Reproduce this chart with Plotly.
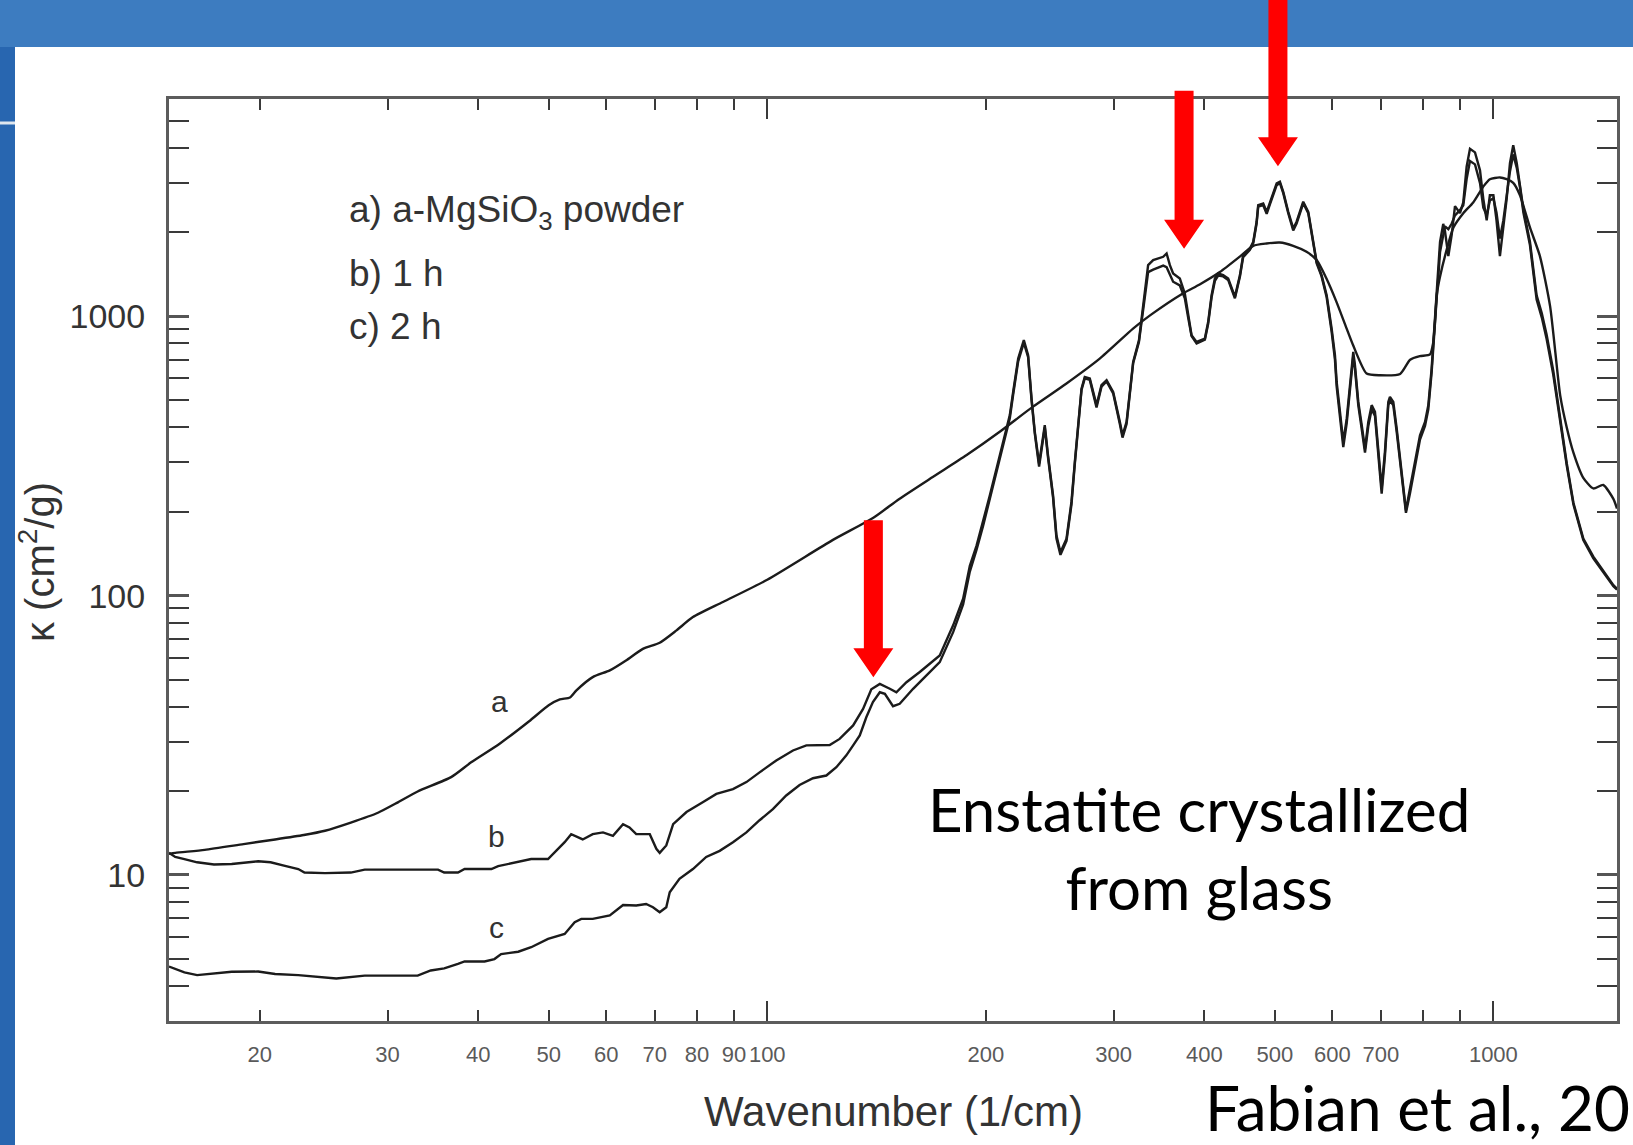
import math
import plotly.graph_objects as go

# ---- mass absorption coefficient kappa (cm^2/g) vs wavenumber (1/cm) ----
# a) amorphous MgSiO3 powder
a_wn = [15, 15.3, 16.8, 19.0, 21.0, 23.0, 24.6, 26.7, 29.1, 31.0,
        33.0, 36.7, 39.1, 42.8, 47.0, 50.0, 51.8, 53.5, 54.6, 57.5,
        60.7, 63.9, 67.4, 71.1, 75.0, 79.0, 86.9, 100, 123, 140,
        152, 169, 188, 209, 232, 258, 287, 319, 337, 374,
        394, 420, 448, 467, 487, 508, 530, 553, 571, 589,
        608, 628, 641, 669, 698, 744, 768, 792, 818, 826,
        831, 836, 844, 863, 881, 909, 938, 969, 989, 1021,
        1043, 1065, 1088, 1123, 1159, 1197, 1236, 1262, 1289, 1330,
        1373, 1417, 1463, 1480]
a_kappa = [11.9, 12.0, 12.3, 12.9, 13.4, 13.9, 14.4, 15.4, 16.7, 18.2,
           19.9, 22.4, 25.3, 29.5, 35.5, 40.5, 42.5, 43.2, 45.8, 51.1,
           54.0, 58.6, 64.5, 67.8, 75.1, 83.8, 94.9, 114, 158, 190,
           222, 266, 318, 386, 474, 574, 706, 904, 1010, 1210,
           1300, 1440, 1640, 1789, 1823, 1838, 1789, 1703, 1590, 1366,
           1127, 904, 788, 624, 615, 622, 699, 720, 731, 800,
           960, 1200, 1380, 1744, 2081, 2341, 2557, 2920, 3097, 3143,
           3097, 3006, 2712, 2081, 1643, 1088, 521, 400, 325, 264,
           242, 249, 222, 205]

# b) annealed 1 h
b_wn = [15, 15.3, 15.75, 16.4, 17.3, 18.3, 19.9, 20.7, 21.6, 22.6,
        23.05, 24.6, 26.7, 27.9, 31.0, 35.2, 35.9, 37.5, 38.3, 40.0,
        41.7, 42.6, 45.4, 47.3, 49.9, 51.0, 52.6, 53.7, 55.7, 57.5,
        59.4, 61.3, 63.3, 64.6, 66.0, 68.9, 70.35, 71.1, 72.6, 74.2,
        77.4, 81.5, 85.1, 89.7, 93.6, 97.6, 102.9, 108.5, 113.2, 121.9,
        125.8, 131.3, 135.5, 139.1, 142.9, 147.5, 150.6, 155.5, 162.2, 172.8,
        180.3, 186.1, 190.1, 194.2, 198.3, 202.6, 206.9, 211.3, 215.8, 218.1,
        221.6, 225.6, 228.7, 231.2, 233.6, 236.8, 241.1, 243.6, 247.5, 250.2,
        253.4, 258.3, 262.4, 265.2, 268, 270.9, 273.7, 278.1, 284.1, 288.6,
        293.3, 299.5, 305.9, 308.5, 312.5, 315.7, 319.1, 325, 329.4, 333,
        334.6, 340, 351, 354.8, 358.5, 362.2, 370, 375.9, 379.9, 384,
        390.2, 400.6, 404.8, 409.2, 413.5, 417.8, 424.5, 431.3, 440.6, 447.7,
        452.3, 462.1, 467, 472, 474.4, 482, 487.3, 495, 503, 508.2,
        513.6, 521.8, 530.1, 535.8, 547.2, 556, 564.9, 570.9, 580, 589.4,
        598.8, 605.1, 608.4, 614.9, 621.3, 628.1, 634.8, 641.3, 644.7, 651.6,
        658.7, 665.6, 672.6, 679.8, 687, 694.2, 701.7, 709, 716.6, 720.4,
        728.1, 736, 743.6, 751.5, 757.9, 767.6, 779.8, 792.4, 805.1, 813.6,
        822.2, 826.7, 831, 835.6, 840, 844.4, 853, 857.7, 866.9, 876.3,
        885.4, 899.5, 909, 918.7, 928.5, 943.4, 958.5, 968.6, 979, 989,
        1000, 1010, 1021, 1032, 1043, 1054, 1065, 1077, 1088, 1100,
        1123, 1135, 1147, 1166, 1184, 1209, 1236, 1262, 1289, 1330,
        1373, 1417, 1463, 1480]
b_kappa = [12.0, 11.6, 11.4, 11.1, 10.9, 10.95, 11.2, 11.1, 10.8, 10.5,
           10.2, 10.15, 10.2, 10.45, 10.45, 10.45, 10.2, 10.2, 10.5, 10.5,
           10.5, 10.75, 11.1, 11.4, 11.4, 12.1, 13.1, 14.0, 13.4, 14.0,
           14.2, 13.8, 15.2, 14.8, 14.0, 14.0, 12.4, 12.0, 12.75, 15.2,
           16.8, 18.2, 19.5, 20.3, 21.5, 23.3, 25.7, 27.9, 29.1, 29.2,
           30.7, 34.3, 39.3, 46.2, 48.3, 46.4, 45.1, 49.0, 53.3, 61.1,
           78.3, 97.5, 128, 151, 184, 229, 285, 355, 443, 536,
           706, 822, 726, 508, 386, 297, 408, 318, 229, 164,
           143, 160, 217, 301, 419, 551, 607, 599, 481, 567,
           591, 536, 419, 375, 419, 522, 687, 820, 1080, 1370,
           1525, 1590, 1634, 1679, 1525, 1424, 1366, 1207, 1010, 856,
           810, 833, 956, 1191, 1366, 1424, 1405, 1366, 1175, 1405,
           1657, 1750, 1849, 2181, 2503, 2537, 2368, 2643, 2991, 3033,
           2793, 2368, 2064, 2181, 2573, 2368, 1849, 1568, 1405, 1191,
           904, 726, 582, 443, 355, 430, 567, 746, 669, 494,
           408, 336, 419, 481, 455, 327, 242, 327, 494, 515,
           494, 396, 318, 242, 202, 242, 301, 375, 419, 481,
           650, 810, 1030, 1200, 1450, 1849, 2143, 2020, 1643, 1961,
           2482, 2341, 2557, 3432, 3980, 3864, 3333, 2634, 2206, 2712,
           2712, 2206, 1643, 2081, 2634, 3537, 4096, 3537, 2961, 2410,
           1849, 1504, 1188, 1026, 859, 640, 424, 298, 215, 160,
           138, 123, 109, 106]

# c) annealed 2 h
c_wn = [15, 15.75, 16.4, 18.3, 19.9, 21.0, 22.6, 24.6, 25.5, 27.9,
        31.0, 33.0, 34.4, 35.9, 37.5, 38.3, 40.8, 42.1, 43.0, 45.4,
        47.3, 49.9, 52.6, 54.3, 55.45, 57.5, 60.7, 63.3, 66.0, 68.1,
        69.6, 71.1, 72.6, 73.4, 75.7, 79.0, 82.4, 86.0, 89.7, 93.6,
        97.6, 101.8, 106.2, 110.8, 115.6, 120.6, 124.5, 128.5, 131.3, 134.1,
        136.9, 139.8, 142.9, 145.2, 149.0, 152.2, 158.8, 165.7, 172.8, 180.3,
        186.1, 190.1, 194.2, 198.3, 202.6, 206.9, 211.3, 215.8, 218.1, 221.6,
        225.6, 228.7, 231.2, 233.6, 236.8, 241.1, 243.6, 247.5, 250.2, 253.4,
        258.3, 262.4, 265.2, 268, 270.9, 273.7, 278.1, 284.1, 288.6, 293.3,
        299.5, 305.9, 308.5, 312.5, 315.7, 319.1, 325, 329.4, 333, 334.6,
        340, 351, 354.8, 358.5, 362.2, 370, 375.9, 379.9, 384, 390.2,
        400.6, 404.8, 409.2, 413.5, 417.8, 424.5, 431.3, 440.6, 447.7, 452.3,
        462.1, 467, 472, 474.4, 482, 487.3, 495, 503, 508.2, 513.6,
        521.8, 530.1, 535.8, 547.2, 556, 564.9, 570.9, 580, 589.4, 598.8,
        605.1, 608.4, 614.9, 621.3, 628.1, 634.8, 641.3, 644.7, 651.6, 658.7,
        665.6, 672.6, 679.8, 687, 694.2, 701.7, 709, 716.6, 720.4, 728.1,
        736, 743.6, 751.5, 757.9, 767.6, 779.8, 792.4, 805.1, 813.6, 822.2,
        826.7, 831, 835.6, 840, 844.4, 853, 857.7, 866.9, 876.3, 885.4,
        899.5, 909, 918.7, 928.5, 943.4, 958.5, 968.6, 979, 989, 1000,
        1010, 1021, 1032, 1043, 1054, 1065, 1077, 1088, 1100, 1123,
        1135, 1147, 1166, 1184, 1209, 1236, 1262, 1289, 1330, 1373,
        1417, 1463, 1480]
c_kappa = [4.70, 4.48, 4.38, 4.50, 4.51, 4.42, 4.38, 4.30, 4.26, 4.36,
           4.36, 4.36, 4.55, 4.63, 4.80, 4.90, 4.90, 5.00, 5.21, 5.31,
           5.51, 5.90, 6.15, 6.77, 6.96, 6.96, 7.16, 7.81, 7.77, 7.87,
           7.66, 7.35, 7.66, 8.67, 9.68, 10.5, 11.6, 12.2, 13.1, 14.2,
           15.7, 17.2, 19.25, 21.0, 22.2, 22.7, 24.3, 26.8, 29.1, 31.6,
           36.7, 41.6, 45.1, 44.5, 40.2, 41.0, 46.4, 51.8, 57.8, 74,
           93, 122, 146, 178, 222, 277, 346, 432, 525, 690,
           805, 715, 500, 380, 290, 400, 312, 225, 160, 140,
           157, 212, 296, 412, 545, 600, 592, 472, 560, 585,
           530, 412, 368, 412, 515, 680, 810, 1060, 1340, 1440,
           1470, 1520, 1500, 1420, 1330, 1290, 1160, 990, 850, 800,
           825, 940, 1170, 1340, 1400, 1390, 1350, 1160, 1390, 1630,
           1730, 1830, 2150, 2470, 2500, 2330, 2600, 2950, 3000, 2760,
           2340, 2030, 2150, 2540, 2340, 1820, 1550, 1390, 1170, 880,
           700, 560, 425, 340, 415, 550, 720, 650, 480, 395,
           325, 405, 465, 440, 315, 232, 315, 480, 500, 480,
           385, 305, 232, 198, 232, 290, 362, 405, 465, 630,
           790, 1000, 1170, 1400, 1700, 1950, 2100, 2050, 2150, 2300,
           2400, 2500, 3100, 3600, 3500, 3000, 2450, 2300, 2600, 2650,
           2350, 1900, 2200, 2700, 3300, 3800, 3400, 2900, 2350, 1800,
           1450, 1150, 990, 830, 620, 415, 292, 212, 158, 136,
           121, 108, 105]

assert len(a_wn) == len(a_kappa)
assert len(b_wn) == len(b_kappa)
assert len(c_wn) == len(c_kappa)

# axis ticks
x_tick_vals = [20, 30, 40, 50, 60, 70, 80, 90, 100, 200, 300, 400, 500, 600, 700, 1000]
x_tick_text = ["20", "30", "40", "50", "60", "70", "80", "90", "100",
               "200", "300", "400", "500", "600", "700", "1000"]
x_minor_vals = [800, 900]
x_decade_vals = [100, 1000]
y_tick_vals = [10, 100, 1000]
y_tick_text = ["10", "100", "1000"]
y_minor_vals = [4, 5, 6, 7, 8, 9, 20, 30, 40, 50, 60, 70, 80, 90,
                200, 300, 400, 500, 600, 700, 800, 900, 2000, 3000, 4000, 5000]

# crystalline bands highlighted by arrows (tip position in data units)
arrow_wn = [140, 375, 505]
arrow_kappa = [51, 1745, 3450]
arrow_len = [157, 158, 180]

# ---- page geometry ----
W, H = 1633, 1145
ML, MR, MT, MB = 169, 16, 99, 124
PW, PH = W - ML - MR, H - MT - MB
X_RANGE = [math.log10(15), math.log10(1480)]
Y_RANGE = [math.log10(3), math.log10(6000)]


def px(x):
    return (x - ML) / PW


def py(y):
    return (H - MB - y) / PH


def y_paper(k):
    return (math.log10(k) - Y_RANGE[0]) / (Y_RANGE[1] - Y_RANGE[0])


LINE = dict(color="#1b1b1b", width=2.4)
SANS = "Liberation Sans, Arial, sans-serif"
HAND = "Lato, Open Sans, sans-serif"
TICK = dict(ticks="inside", tickwidth=2, tickcolor="#3a3a3a")

fig = go.Figure()
fig.add_trace(go.Scatter(x=a_wn, y=a_kappa, mode="lines", line=dict(shape="spline", smoothing=0.6, **LINE),
                         showlegend=False, hoverinfo="skip"))
fig.add_trace(go.Scatter(x=b_wn, y=b_kappa, mode="lines", line=LINE, showlegend=False, hoverinfo="skip"))
fig.add_trace(go.Scatter(x=c_wn, y=c_kappa, mode="lines", line=LINE, showlegend=False, hoverinfo="skip"))
# carrier for the overlay axis holding the long decade ticks
fig.add_trace(go.Scatter(x=[], y=[], xaxis="x2", yaxis="y", showlegend=False, hoverinfo="skip"))

shapes = [
    # slide background: darker left strip is the paper colour, lighter top band, white page
    dict(type="rect", xref="paper", yref="paper", x0=px(-10), x1=px(W + 10), y0=py(47), y1=py(-10),
         fillcolor="#3d7cc0", line=dict(width=0), layer="below"),
    dict(type="rect", xref="paper", yref="paper", x0=px(15), x1=px(W + 10), y0=py(H + 10), y1=py(47),
         fillcolor="white", line=dict(width=0), layer="below"),
    dict(type="line", xref="paper", yref="paper", x0=px(-5), x1=px(15), y0=py(123), y1=py(123),
         line=dict(color="#dfe6ee", width=3), layer="below"),
]

for wn, k, ln in zip(arrow_wn, arrow_kappa, arrow_len):
    path = (f"M0,0 L20,29 L9.5,29 L9.5,{ln} L-9.5,{ln} L-9.5,29 L-20,29 Z")
    shapes.append(dict(type="path", xref="x", yref="paper", xsizemode="pixel", ysizemode="pixel",
                       xanchor=wn, yanchor=y_paper(k), path=path,
                       fillcolor="#ff0000", line=dict(width=0), layer="above"))


def note(text, x, y, size, color="#333333", family=SANS, **kw):
    return dict(text=text, x=px(x), y=py(y), xref="paper", yref="paper", showarrow=False,
                font=dict(family=family, size=size, color=color), **kw)


annotations = [
    note("Wavenumber (1/cm)", 893, 1111, 42, xanchor="center", yanchor="middle"),
    note("κ (cm<sup>2</sup>/g)", 37, 562, 40, textangle=-90, xanchor="center", yanchor="middle"),
    note("a) a-MgSiO<sub>3</sub> powder", 347, 212, 37, xanchor="left", yanchor="middle"),
    note("b) 1 h", 347, 273, 37, xanchor="left", yanchor="middle"),
    note("c) 2 h", 347, 326, 37, xanchor="left", yanchor="middle"),
    note("a", 499, 701, 30, xanchor="center", yanchor="middle"),
    note("b", 496, 836, 30, xanchor="center", yanchor="middle"),
    note("c", 496, 927, 30, xanchor="center", yanchor="middle"),
    note("Enstatite crystallized<br>from glass", 1199, 848, 60, color="#000000", family=HAND,
         align="center", xanchor="center", yanchor="middle"),
    note("Fabian et al., 20", 1203, 1107, 62, color="#000000", family=HAND,
         xanchor="left", yanchor="middle"),
]

fig.update_layout(
    width=W, height=H, autosize=False,
    margin=dict(l=ML, r=MR, t=MT, b=MB, pad=0),
    paper_bgcolor="#2866b0", plot_bgcolor="white",
    shapes=shapes, annotations=annotations,
    xaxis=dict(type="log", range=X_RANGE, showgrid=False, zeroline=False,
               showline=True, linecolor="#5c5c5c", linewidth=3, mirror="allticks",
               ticklen=11, **TICK,
               tickmode="array", tickvals=x_tick_vals, ticktext=x_tick_text, tickangle=0,
               tickfont=dict(family="Liberation Sans Narrow, " + SANS, size=22, color="#5a5a5a"),
               ticklabelstandoff=12,
               minor=dict(ticklen=11, tickmode="array", tickvals=x_minor_vals, showgrid=False, **TICK)),
    xaxis2=dict(type="log", range=X_RANGE, overlaying="x", anchor="y", side="bottom",
                showgrid=False, zeroline=False, showline=False, mirror="ticks",
                ticklen=20, **TICK,
                tickmode="array", tickvals=x_decade_vals, showticklabels=False),
    yaxis=dict(type="log", range=Y_RANGE, showgrid=False, zeroline=False,
               showline=True, linecolor="#5c5c5c", linewidth=3, mirror="allticks",
               ticks="inside", ticklen=20, tickwidth=3, tickcolor="#555555",
               tickmode="array", tickvals=y_tick_vals, ticktext=y_tick_text,
               tickfont=dict(family=SANS, size=34, color="#333333"), ticklabelstandoff=14,
               minor=dict(ticklen=11, tickmode="array", tickvals=y_minor_vals, showgrid=False, **TICK)),
)

fig.write_html("out.html")
